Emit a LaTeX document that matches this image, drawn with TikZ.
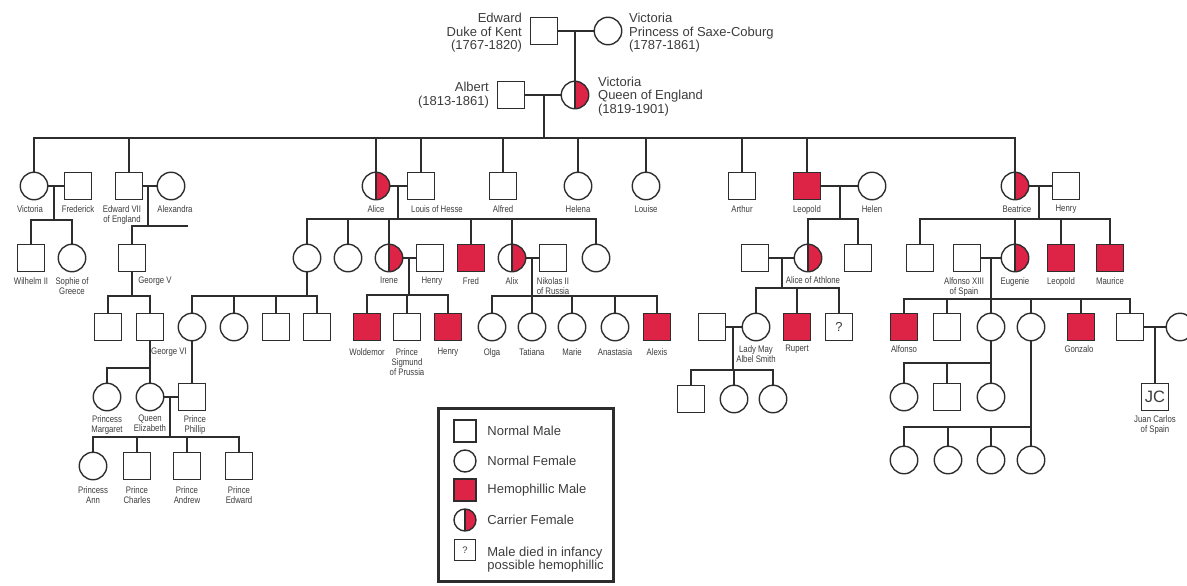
\documentclass[tikz,border=0pt]{standalone}
\usepackage{fontspec}
\setmainfont{Liberation Sans}
\newfontfamily\narrowsf{Liberation Sans}[FakeStretch=0.82]
\usepackage{xcolor}
\definecolor{hemored}{RGB}{221, 36, 70}
\definecolor{linegray}{RGB}{45, 45, 45}
\definecolor{textgray}{RGB}{60, 60, 60}
\usepackage{tikz}
\usetikzlibrary{positioning}

\tikzset{
    person/.style={draw=linegray, line width=1.4pt, inner sep=0pt, minimum size=27.5pt},
    male/.style={person, rectangle},
    female/.style={person, circle},
    hemo/.style={male, fill=hemored},
    carrier/.style={female, path picture={
        \fill[hemored] (path picture bounding box.north) rectangle (path picture bounding box.south east);
        \draw[linegray, line width=1.4pt] (path picture bounding box.north) -- (path picture bounding box.south);}},
    lbl/.style={font=\narrowsf\fontsize{9.5}{10}\selectfont, text=textgray, align=center, inner sep=0pt},
    toplbl/.style={font=\fontsize{13}{13.5}\selectfont, text=textgray, inner sep=0pt},
    keylbl/.style={font=\fontsize{13}{13}\selectfont, text=textgray, inner sep=0pt, align=left},
    legendbox/.style={draw=linegray, line width=3pt, minimum width=175pt, minimum height=173pt}
}

\begin{document}
\begin{tikzpicture}[x=1pt, y=-1pt, line width=1.4pt, linegray]
    \useasboundingbox (0,0) rectangle (1187,586);

    % Edward & Victoria, Victoria & Albert
    \node[male] (edward) at (544,31) {};
    \node[female] (victoriaSC) at (608,31) {};
    \node[male] (albert) at (511,95) {};
    \node[carrier] (queen) at (575,95) {};
    \node[toplbl, left=7pt of edward, align=right, yshift=-2pt] (edward-l) {Edward\\Duke of Kent\\(1767-1820)};
    \node[toplbl, right=6pt of victoriaSC, align=left, yshift=-2pt] (victoriaSC-l) {Victoria\\Princess of Saxe-Coburg\\(1787-1861)};
    \node[toplbl, left=7pt of albert, align=right] (albert-l) {Albert\\(1813-1861)};
    \node[toplbl, right=8pt of queen, align=left, yshift=-1.5pt] (queen-l) {Victoria\\Queen of England\\(1819-1901)};

    \draw (edward) -- (victoriaSC);
    \draw (queen.north) -- (queen.north |- edward);
    \draw (albert) -- (queen);
    \coordinate (j0) at (544,138);
    \draw (j0 |- queen) -- (j0);

    % children of Victoria
    \node[female] (vic1) at (34,186) {};
    \node[male] (frederick) at (78,186) {};
    \node[male] (edw7) at (129,186) {};
    \node[female] (alexandra) at (171,186) {};
    \node[carrier] (alice) at (376,186) {};
    \node[male] (louis) at (421,186) {};
    \node[male] (alfred) at (503,186) {};
    \node[female] (helena) at (578,186) {};
    \node[female] (louise) at (646,186) {};
    \node[male] (arthur) at (742,186) {};
    \node[hemo] (leopold) at (807,186) {};
    \node[female] (helen) at (872,186) {};
    \node[carrier] (beatrice) at (1015,186) {};
    \node[male] (henryB) at (1066,186) {};
    \foreach \c in {vic1,edw7,alice,louis,alfred,helena,louise,arthur,leopold,beatrice}
        \draw (\c.north) |- (j0);

    \node[lbl, below=4pt of vic1, xshift=-4pt] (vic1-l) {Victoria};
    \node[lbl, below=4pt of frederick] (frederick-l) {Frederick};
    \node[lbl, below=4pt of edw7, xshift=-7pt] (edw7-l) {Edward VII\\of England};
    \node[lbl, below=4pt of alexandra, xshift=4pt] (alexandra-l) {Alexandra};
    \node[lbl, below=4pt of alice] (alice-l) {Alice};
    \node[lbl, below=4pt of louis, xshift=16pt] (louis-l) {Louis of Hesse};
    \node[lbl, below=4pt of alfred] (alfred-l) {Alfred};
    \node[lbl, below=4pt of helena] (helena-l) {Helena};
    \node[lbl, below=4pt of louise] (louise-l) {Louise};
    \node[lbl, below=4pt of arthur] (arthur-l) {Arthur};
    \node[lbl, below=4pt of leopold] (leopold-l) {Leopold};
    \node[lbl, below=4pt of helen] (helen-l) {Helen};
    \node[lbl, below=4pt of beatrice, xshift=2pt] (beatrice-l) {Beatrice};
    \node[lbl, below=4pt of henryB] (henryB-l) {Henry};

    % Victoria & Frederick
    \draw (vic1) -- (frederick);
    \coordinate (j1) at (54,220);
    \draw (j1 |- vic1) -- (j1);
    \node[male] (wilhelm) at (31,258) {};
    \node[female] (sophie) at (72,258) {};
    \foreach \c in {wilhelm,sophie}
        \draw (\c.north) |- (j1);
    \node[lbl, below=4pt of wilhelm] (wilhelm-l) {Wilhelm II};
    \node[lbl, below=4pt of sophie] (sophie-l) {Sophie of\\Greece};

    % Edward VII & Alexandra
    \draw (edw7) -- (alexandra);
    \coordinate (j2) at (148,226);
    \coordinate (j2e) at (188,226);
    \draw (j2 |- edw7) -- (j2);
    \node[male] (georgeV) at (132,258) {};
    \draw (georgeV.north) |- (j2e);
    \node[lbl, below=4pt of georgeV, xshift=23pt] (georgeV-l) {George V};

    % George V
    \coordinate (j3) at (132,296);
    \draw (georgeV) -- (j3);
    \node[male] (g5a) at (108,327) {};
    \node[male] (georgeVI) at (150,327) {};
    \foreach \c in {g5a,georgeVI}
        \draw (\c.north) |- (j3);
    \node[lbl, below=6pt of georgeVI, xshift=19pt] (georgeVI-l) {George VI};

    % George VI
    \coordinate (j4) at (150,368);
    \draw (georgeVI) -- (j4);
    \node[female] (margaret) at (107,397) {};
    \node[female] (elizabeth) at (150,397) {};
    \node[male] (phillip) at (192,397) {};
    \foreach \c in {margaret,elizabeth}
        \draw (\c.north) |- (j4);
    \node[lbl, below=3pt of margaret] (margaret-l) {Princess\\Margaret};
    \node[lbl, below=3pt of elizabeth] (elizabeth-l) {Queen\\Elizabeth};
    \node[lbl, below=3pt of phillip, xshift=3pt] (phillip-l) {Prince\\Phillip};

    % Elizabeth & Phillip
    \draw (elizabeth) -- (phillip);
    \coordinate (j5) at (170,437);
    \draw (j5 |- elizabeth) -- (j5);
    \node[female] (ann) at (93,466) {};
    \node[male] (charles) at (137,466) {};
    \node[male] (andrew) at (187,466) {};
    \node[male] (edwardP) at (239,466) {};
    \foreach \c in {ann,charles,andrew,edwardP}
        \draw (\c.north) |- (j5);
    \node[lbl, below=5pt of ann] (ann-l) {Princess\\Ann};
    \node[lbl, below=5pt of charles] (charles-l) {Prince\\Charles};
    \node[lbl, below=5pt of andrew] (andrew-l) {Prince\\Andrew};
    \node[lbl, below=5pt of edwardP] (edwardP-l) {Prince\\Edward};

    % Alice & Louis of Hesse
    \draw (alice) -- (louis);
    \coordinate (j6) at (398,219);
    \draw (j6 |- alice) -- (j6);
    \node[female] (a1) at (307,258) {};
    \node[female] (a2) at (348,258) {};
    \node[carrier] (irene) at (389,258) {};
    \node[male] (henryI) at (430,258) {};
    \node[hemo] (fredH) at (471,258) {};
    \node[carrier] (alix) at (512,258) {};
    \node[male] (nikolas) at (553,258) {};
    \node[female] (a6) at (596,258) {};
    \foreach \c in {a1,a2,irene,fredH,alix,a6}
        \draw (\c.north) |- (j6);
    \node[lbl, below=4pt of irene] (irene-l) {Irene};
    \node[lbl, below=4pt of henryI, xshift=2pt] (henryI-l) {Henry};
    \node[lbl, below=4pt of fredH] (fredH-l) {Fred};
    \node[lbl, below=4pt of alix] (alix-l) {Alix};
    \node[lbl, below=4pt of nikolas] (nikolas-l) {Nikolas II\\of Russia};

    % first daughter of Alice
    \coordinate (j7) at (307,296);
    \draw (a1) -- (j7);
    \node[female] (b1) at (192,327) {};
    \node[female] (b2) at (234,327) {};
    \node[male] (b3) at (276,327) {};
    \node[male] (b4) at (317,327) {};
    \foreach \c in {b1,b2,b3,b4}
        \draw (\c.north) |- (j7);
    \draw (b1) -- (phillip);

    % Irene & Henry
    \draw (irene) -- (henryI);
    \coordinate (j8) at (409,295);
    \draw (j8 |- irene) -- (j8);
    \node[hemo] (woldemor) at (367,327) {};
    \node[male] (sigmund) at (407,327) {};
    \node[hemo] (henryH) at (448,327) {};
    \foreach \c in {woldemor,sigmund,henryH}
        \draw (\c.north) |- (j8);
    \node[lbl, below=6pt of woldemor] (woldemor-l) {Woldemor};
    \node[lbl, below=6pt of sigmund] (sigmund-l) {Prince\\Sigmund\\of Prussia};
    \node[lbl, below=6pt of henryH] (henryH-l) {Henry};

    % Alix & Nikolas II
    \draw (alix) -- (nikolas);
    \coordinate (j9) at (532,296);
    \draw (j9 |- alix) -- (j9);
    \node[female] (olga) at (492,327) {};
    \node[female] (tatiana) at (532,327) {};
    \node[female] (marie) at (572,327) {};
    \node[female] (anastasia) at (615,327) {};
    \node[hemo] (alexis) at (657,327) {};
    \foreach \c in {olga,tatiana,marie,anastasia,alexis}
        \draw (\c.north) |- (j9);
    \node[lbl, below=6pt of olga] (olga-l) {Olga};
    \node[lbl, below=6pt of tatiana] (tatiana-l) {Tatiana};
    \node[lbl, below=6pt of marie] (marie-l) {Marie};
    \node[lbl, below=6pt of anastasia] (anastasia-l) {Anastasia};
    \node[lbl, below=6pt of alexis] (alexis-l) {Alexis};

    % Leopold & Helen
    \draw (leopold) -- (helen);
    \coordinate (j10) at (840,219);
    \draw (j10 |- leopold) -- (j10);
    \node[male] (athH) at (755,258) {};
    \node[carrier] (athlone) at (808,258) {};
    \node[male] (l2) at (858,258) {};
    \foreach \c in {athlone,l2}
        \draw (\c.north) |- (j10);
    \node[lbl, below=3pt of athlone, xshift=5pt] (athlone-l) {Alice of Athlone};

    % Alice of Athlone
    \draw (athH) -- (athlone);
    \coordinate (j11) at (782,288);
    \draw (j11 |- athlone) -- (j11);
    \node[male] (mayH) at (712,327) {};
    \node[female] (ladymay) at (756,327) {};
    \node[hemo] (rupert) at (797,327) {};
    \node[male, font=\fontsize{13}{13}\selectfont, text=textgray] (unk) at (839,327) {?};
    \foreach \c in {ladymay,rupert,unk}
        \draw (\c.north) |- (j11);
    \node[lbl, below=3pt of ladymay] (ladymay-l) {Lady May\\Albel Smith};
    \node[lbl, below=3pt of rupert] (rupert-l) {Rupert};

    % Lady May
    \draw (mayH) -- (ladymay);
    \coordinate (j12) at (733,370);
    \draw (j12 |- ladymay) -- (j12);
    \node[male] (m1) at (691,399) {};
    \node[female] (m2) at (734,399) {};
    \node[female] (m3) at (773,399) {};
    \foreach \c in {m1,m2,m3}
        \draw (\c.north) |- (j12);

    % Beatrice & Henry
    \draw (beatrice) -- (henryB);
    \coordinate (j13) at (1039,219);
    \draw (j13 |- beatrice) -- (j13);
    \node[male] (c1) at (920,258) {};
    \node[male] (alfonso13) at (967,258) {};
    \node[carrier] (eugenie) at (1015,258) {};
    \node[hemo] (leopoldB) at (1061,258) {};
    \node[hemo] (maurice) at (1110,258) {};
    \foreach \c in {c1,eugenie,leopoldB,maurice}
        \draw (\c.north) |- (j13);
    \node[lbl, below=4pt of alfonso13, xshift=-3pt] (alfonso13-l) {Alfonso XIII\\of Spain};
    \node[lbl, below=4pt of eugenie] (eugenie-l) {Eugenie};
    \node[lbl, below=4pt of leopoldB] (leopoldB-l) {Leopold};
    \node[lbl, below=4pt of maurice] (maurice-l) {Maurice};

    % Eugenie & Alfonso XIII
    \draw (alfonso13) -- (eugenie);
    \coordinate (j14) at (991,299);
    \draw (j14 |- eugenie) -- (j14);
    \node[hemo] (alfonso) at (904,327) {};
    \node[male] (e2) at (947,327) {};
    \node[female] (e3) at (991,327) {};
    \node[female] (e4) at (1031,327) {};
    \node[hemo] (gonzalo) at (1081,327) {};
    \node[male] (e6) at (1130,327) {};
    \node[female] (e6w) at (1180,327) {};
    \foreach \c in {alfonso,e2,e3,e4,gonzalo,e6}
        \draw (\c.north) |- (j14);
    \node[lbl, below=3pt of alfonso] (alfonso-l) {Alfonso};
    \node[lbl, below=3pt of gonzalo, xshift=-2pt] (gonzalo-l) {Gonzalo};

    % grandchildren of Eugenie
    \coordinate (j15) at (991,363);
    \draw (e3) -- (j15);
    \node[female] (f1) at (904,397) {};
    \node[male] (f2) at (947,397) {};
    \node[female] (f3) at (991,397) {};
    \foreach \c in {f1,f2,f3}
        \draw (\c.north) |- (j15);

    \coordinate (j16) at (1031,427);
    \draw (e4) -- (j16);
    \node[female] (g1) at (904,460) {};
    \node[female] (g2) at (948,460) {};
    \node[female] (g3) at (991,460) {};
    \node[female] (g4) at (1031,460) {};
    \foreach \c in {g1,g2,g3,g4}
        \draw (\c.north) |- (j16);

    \draw (e6) -- (e6w);
    \coordinate (j17) at (1155,327);
    \node[male, font=\fontsize{16.5}{16.5}\selectfont, text=textgray] (jc) at (1155,397) {JC};
    \draw (j17) -- (jc);
    \node[lbl, below=3pt of jc] (jc-l) {Juan Carlos\\of Spain};

    % legend
    \node[legendbox] (legend) at (526,495) {};
    \node[male, minimum size=22pt] (key-m) at (465,431) {};
    \node[female, minimum size=22pt] (key-f) at (465,461) {};
    \node[hemo, minimum size=22pt] (key-h) at (465,490) {};
    \node[carrier, minimum size=22pt] (key-c) at (465,520) {};
    \node[male, minimum size=21pt, font=\fontsize{9.5}{9.5}\selectfont, text=textgray] (key-u) at (465,550) {?};
    \node[keylbl, right=10pt of key-m] (key-m-l) {Normal Male};
    \node[keylbl, right=10pt of key-f] (key-f-l) {Normal Female};
    \node[keylbl, right=10pt of key-h] (key-h-l) {Hemophillic Male};
    \node[keylbl, right=10pt of key-c] (key-c-l) {Carrier Female};
    \node[keylbl, right=10.5pt of key-u, yshift=-10pt] (key-u-l) {Male died in infancy\\possible hemophillic};
\end{tikzpicture}
\end{document}
